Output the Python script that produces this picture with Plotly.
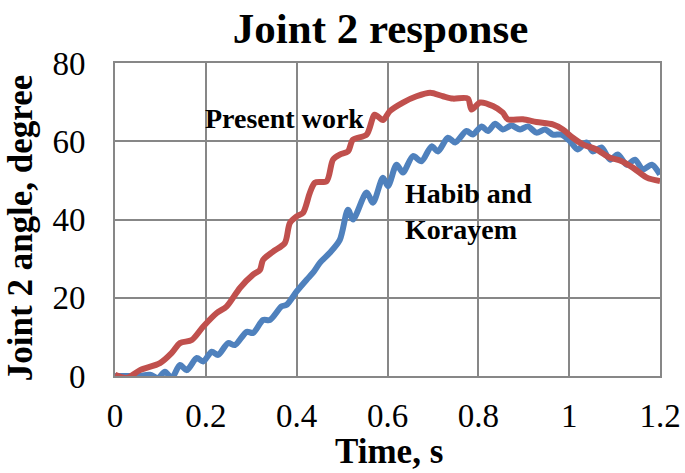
import plotly.graph_objects as go

# Present work (red)
present_t = [0, 0.026, 0.055, 0.099, 0.125, 0.143, 0.169, 0.194, 0.224, 0.246, 0.275, 0.304, 0.319,
             0.326, 0.348, 0.374, 0.385, 0.400, 0.414, 0.429, 0.440, 0.466, 0.480, 0.495, 0.513, 0.524,
             0.554, 0.572, 0.590, 0.605, 0.634, 0.664, 0.694, 0.722, 0.744, 0.777, 0.785, 0.804, 0.832,
             0.854, 0.865, 0.898, 0.928, 0.964, 0.986, 1.008, 1.030, 1.060, 1.090, 1.112, 1.141, 1.171, 1.200]
present_y = [0.3, -0.5, 1.5, 3.3, 5.9, 8.4, 9.2, 12.6, 16.1, 17.8, 22.5, 25.9, 27.1,
             29.7, 31.8, 34.0, 39.1, 40.8, 41.7, 46.8, 49.4, 49.8, 55.3, 56.6, 57.4, 60.4,
             61.7, 66.8, 65.4, 67.7, 69.9, 71.5, 72.4, 71.5, 70.9, 70.9, 68.1, 69.9, 69.0,
             67.3, 65.6, 65.6, 64.9, 64.3, 63.0, 60.9, 59.2, 57.9, 55.8, 55.1, 53.2, 50.7, 49.8]

# Habib and Korayem (blue)
habib_t = [0, 0.05, 0.077, 0.095, 0.11, 0.125, 0.143, 0.158, 0.18, 0.194, 0.213, 0.227, 0.249, 0.264,
           0.29, 0.304, 0.326, 0.341, 0.367, 0.378, 0.4, 0.422, 0.436, 0.451, 0.473, 0.495, 0.513,
           0.524, 0.554, 0.568, 0.59, 0.601, 0.62, 0.634, 0.656, 0.675, 0.697, 0.711, 0.733, 0.749,
           0.774, 0.788, 0.807, 0.821, 0.837, 0.854, 0.873, 0.892, 0.909, 0.928, 0.947, 0.964, 0.983,
           1.002, 1.019, 1.038, 1.052, 1.071, 1.09, 1.107, 1.127, 1.145, 1.162, 1.182, 1.2]
habib_y = [0, 0, 0.3, -0.5, 1.1, -0.5, 2.8, 1.5, 4.6, 3.7, 6.2, 5.4, 8.4, 7.9,
           11.3, 11.0, 14.3, 14.3, 17.8, 18.2, 21.6, 24.6, 26.4, 28.9, 31.5, 34.8, 42.5,
           40.0, 46.9, 44.3, 50.7, 48.5, 54.0, 52.0, 56.2, 54.9, 58.7, 57.4, 60.9, 59.7,
           62.6, 61.7, 63.8, 62.6, 64.5, 63.0, 64.0, 63.0, 63.8, 62.2, 63.0, 61.7, 61.7,
           60.0, 57.9, 59.7, 57.4, 58.4, 55.3, 56.6, 54.0, 55.3, 52.8, 54.0, 51.5]

x_ticks = [0, 0.2, 0.4, 0.6, 0.8, 1.0, 1.2]
x_tick_text = ["0", "0.2", "0.4", "0.6", "0.8", "1", "1.2"]
y_ticks = [0, 20, 40, 60, 80]

FONT = "Times New Roman, Liberation Serif, serif"
GRID = "#878787"

fig = go.Figure()
fig.add_trace(go.Scatter(x=habib_t, y=habib_y, mode="lines", name="Habib and Korayem",
                         line=dict(color="#4F81BD", width=6, shape="spline", smoothing=0.8)))
fig.add_trace(go.Scatter(x=present_t, y=present_y, mode="lines", name="Present work",
                         line=dict(color="#C0504D", width=6, shape="spline", smoothing=0.8)))

fig.update_layout(
    width=685, height=473,
    margin=dict(l=115, r=25, t=63, b=97, autoexpand=False),
    paper_bgcolor="white", plot_bgcolor="white",
    showlegend=False,
    font=dict(family=FONT, color="black"),
    title=dict(text="<b>Joint 2 response</b>", x=0.5555, xanchor="center",
               y=0.94, yanchor="middle", font=dict(size=43, family=FONT, color="black")),
    xaxis=dict(range=[0, 1.2], tickvals=x_ticks, ticktext=x_tick_text,
               showgrid=True, gridcolor=GRID, gridwidth=2,
               showline=True, linecolor=GRID, linewidth=2, mirror=True, zeroline=False,
               ticks="", tickfont=dict(size=33, family=FONT, color="black"),
               ticklabelstandoff=9, automargin=False),
    yaxis=dict(range=[0, 80], tickvals=y_ticks,
               showgrid=True, gridcolor=GRID, gridwidth=2,
               showline=True, linecolor=GRID, linewidth=2, mirror=True, zeroline=False,
               ticks="", tickfont=dict(size=33, family=FONT, color="black"),
               ticklabelstandoff=21, automargin=False),
)

annotations = [
    dict(text="<b>Time, s</b>", xref="paper", yref="paper", x=0.503, y=-0.24,
         xanchor="center", yanchor="middle", showarrow=False,
         font=dict(size=35, family=FONT, color="black")),
    dict(text="<b>Joint 2 angle, degree</b>", xref="paper", yref="paper", x=-0.172, y=0.473,
         xanchor="center", yanchor="middle", showarrow=False, textangle=-90,
         font=dict(size=35, family=FONT, color="black")),
    dict(text="<b>Present work</b>", xref="x", yref="y", x=0.194, y=65.8,
         xanchor="left", yanchor="middle", showarrow=False,
         font=dict(size=28, family=FONT, color="black")),
    dict(text="<b>Habib and<br>Korayem</b>", xref="x", yref="y", x=0.634, y=42,
         xanchor="left", yanchor="middle", showarrow=False, align="left",
         font=dict(size=28, family=FONT, color="black")),
]
fig.update_layout(annotations=annotations)

fig.write_html("out.html", config={"displayModeBar": False},
               post_script="document.body.style.margin='0';document.body.style.overflow='hidden';")
